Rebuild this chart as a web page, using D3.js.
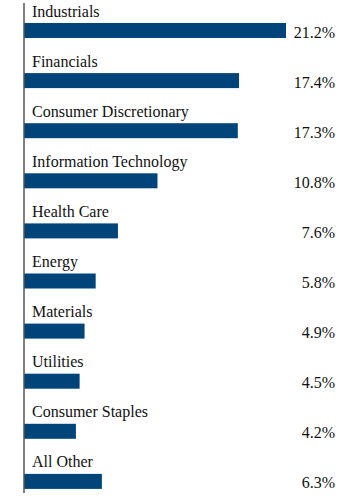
<!DOCTYPE html>
<html>
<head>
<meta charset="utf-8">
<script src="https://cdn.jsdelivr.net/npm/d3@7"></script>
<style>
html,body{margin:0;padding:0;background:#fff;}
svg{display:block;}
</style>
</head>
<body>
<svg id="chart" width="360" height="497"></svg>
<script>
const categories = ["Industrials","Financials","Consumer Discretionary","Information Technology","Health Care","Energy","Materials","Utilities","Consumer Staples","All Other"];
const values = [21.2,17.4,17.3,10.8,7.6,5.8,4.9,4.5,4.2,6.3];
const valueLabels = ["21.2%","17.4%","17.3%","10.8%","7.6%","5.8%","4.9%","4.5%","4.2%","6.3%"];

const FONT = "Liberation Serif";
const svg = d3.select("#chart");
const x0 = 24;
const x = d3.scaleLinear().domain([0, 21.2]).range([x0, 286]);
const y = d3.scaleBand().domain(categories).range([-2, 499]).paddingInner(0).paddingOuter(0);

const barOffset = 25, barH = 15;

svg.selectAll("rect.bar").data(categories).join("rect")
  .attr("class","bar")
  .attr("x", x(0))
  .attr("y", d => y(d) + barOffset)
  .attr("width", (d,i) => x(values[i]) - x(0))
  .attr("height", barH)
  .attr("fill", "#004479");

svg.selectAll("text.cat").data(categories).join("text")
  .attr("class","cat")
  .attr("x", 32)
  .attr("y", d => y(d) + 18.5)
  .attr("font-family", FONT)
  .attr("font-size", 16)
  .attr("fill", "#111")
  .text(d => d);

svg.selectAll("text.val").data(categories).join("text")
  .attr("class","val")
  .attr("x", 335)
  .attr("y", d => y(d) + 39.5)
  .attr("text-anchor","end")
  .attr("font-family", FONT)
  .attr("font-size", 16)
  .attr("fill", "#111")
  .text((d,i) => valueLabels[i]);

svg.append("line")
  .attr("x1", x0).attr("x2", x0)
  .attr("y1", 3).attr("y2", 493)
  .attr("stroke", "#555")
  .attr("stroke-width", 1.5);
</script>
</body>
</html>
